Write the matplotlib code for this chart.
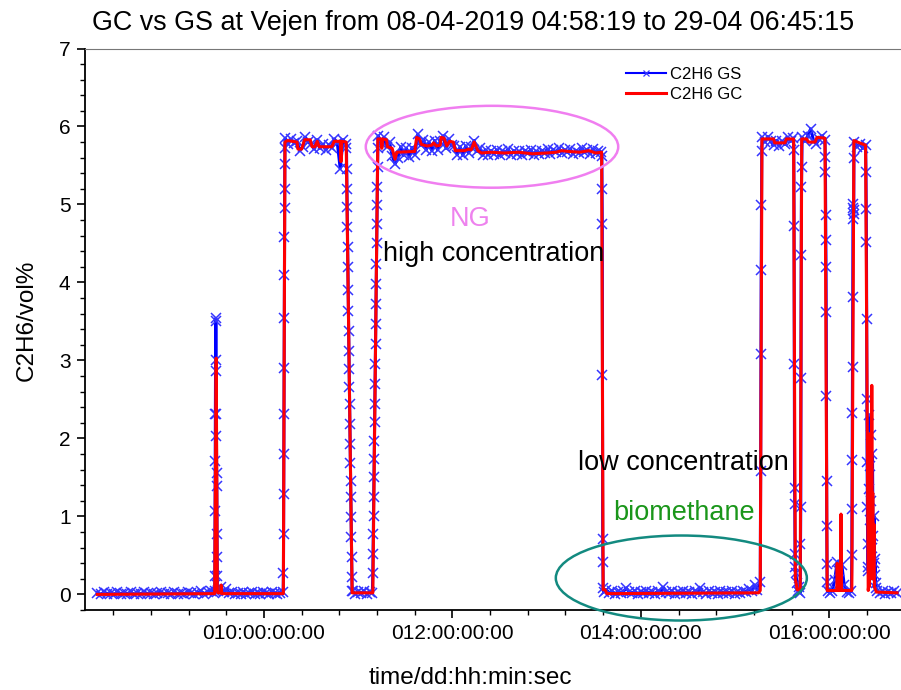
import numpy as np
import matplotlib.pyplot as plt
from matplotlib.patches import Ellipse
from matplotlib.ticker import FixedLocator, MultipleLocator

plt.rcParams['font.family'] = ['Liberation Sans', 'DejaVu Sans']

# ---- GS readings (C2H6 vol%), one list per stretch of the log ----
gs_base1 = [0.02, 0.00, 0.03, 0.01, 0.02, 0.00, 0.03, 0.01, 0.02, 0.01, 0.03, 0.00,
            0.02, 0.01, 0.03, 0.01, 0.02, 0.00, 0.02, 0.03, 0.01, 0.02, 0.00, 0.03,
            0.01, 0.02, 0.01, 0.03, 0.02, 0.00, 0.02, 0.04, 0.01, 0.03, 0.05, 0.02]
gs_spike1 = [0.05, 0.24, 1.07, 1.71, 2.31, 3.01, 3.54, 3.50, 2.86, 2.31, 2.03, 1.56,
             1.39, 0.78, 0.48, 0.24, 0.06]
gs_base2 = [0.04, 0.09, 0.03, 0.07, 0.02, 0.03, 0.01, 0.02, 0.00, 0.03, 0.01, 0.02,
            0.03, 0.01, 0.02, 0.00, 0.03, 0.02, 0.01, 0.03, 0.02, 0.00, 0.02, 0.03]
gs_rise1 = [0.28, 0.78, 1.29, 1.80, 2.31, 2.90, 3.54, 4.10, 4.58, 4.95, 5.20, 5.52, 5.73]
gs_high1 = [5.85, 5.78, 5.84, 5.79, 5.82, 5.69, 5.74, 5.86, 5.80, 5.77, 5.71, 5.83,
            5.72, 5.77, 5.70, 5.76, 5.73, 5.84, 5.79, 5.46, 5.83, 5.78]
gs_fall1 = [5.73, 5.46, 5.20, 4.97, 4.71, 4.45, 4.20, 3.90, 3.64, 3.38, 3.12, 2.89,
            2.66, 2.44, 2.19, 1.93, 1.68, 1.46, 1.25, 0.99, 0.73, 0.48, 0.22, 0.05]
gs_base3 = [0.04, 0.01, 0.03, 0.02, 0.04, 0.01, 0.03, 0.02]
gs_rise2 = [0.27, 0.52, 0.78, 1.01, 1.25, 1.50, 1.74, 1.97, 2.21, 2.44, 2.70, 2.96,
            3.21, 3.47, 3.73, 3.98, 4.24, 4.50, 4.75, 4.99, 5.22, 5.48, 5.73]
gs_high2 = [5.88, 5.79, 5.86, 5.74, 5.80, 5.62, 5.52, 5.60, 5.74, 5.63, 5.72, 5.61,
            5.73, 5.64, 5.90, 5.76, 5.83, 5.70, 5.80, 5.69, 5.82, 5.70, 5.81, 5.88,
            5.72, 5.84, 5.76, 5.75, 5.64, 5.74, 5.63, 5.75, 5.66, 5.74, 5.82, 5.68,
            5.72, 5.63, 5.70, 5.64, 5.69, 5.65, 5.70, 5.63, 5.68, 5.66, 5.71, 5.64,
            5.69, 5.65, 5.68, 5.63, 5.69, 5.66, 5.70, 5.64, 5.68, 5.65, 5.69, 5.66,
            5.71, 5.65, 5.70, 5.67, 5.72, 5.66, 5.70, 5.67, 5.71, 5.65, 5.69, 5.66,
            5.72, 5.67, 5.70, 5.65, 5.71, 5.66, 5.69, 5.67]
gs_fall2 = [5.62, 5.20, 4.75, 2.81, 0.71, 0.41, 0.08]
gs_base4 = [0.03, 0.06, 0.02, 0.04, 0.01, 0.03, 0.02, 0.04, 0.08, 0.03, 0.02, 0.04,
            0.01, 0.03, 0.02, 0.04, 0.02, 0.03, 0.01, 0.04, 0.02, 0.09, 0.03, 0.02,
            0.04, 0.01, 0.03, 0.02, 0.04, 0.02, 0.03, 0.01, 0.04, 0.02, 0.08, 0.03,
            0.01, 0.04, 0.02, 0.03, 0.01, 0.04, 0.02, 0.03, 0.02, 0.04, 0.01, 0.03,
            0.02, 0.05, 0.03, 0.07, 0.04, 0.12, 0.06, 0.16]
gs_rise3 = [1.58, 3.08, 4.16, 4.99, 5.69]
gs_high3 = [5.86, 5.80, 5.87, 5.81, 5.76, 5.82, 5.75, 5.81, 5.77, 5.86, 5.81, 5.85]
gs_fall3 = [5.70, 4.73, 2.96, 1.36, 1.16, 0.52, 0.35]
gs_base5 = [0.28, 0.15, 0.04, 0.10, 0.02]
gs_rise4 = [0.65, 1.12, 2.77, 4.35, 5.22, 5.48]
gs_high4 = [5.86, 5.81, 5.88, 5.97, 5.82, 5.78, 5.84, 5.88, 5.83]
gs_fall4 = [5.61, 5.41, 4.86, 4.54, 4.20, 3.62, 2.55, 1.46, 0.88, 0.39, 0.16]
gs_base6 = [0.04, 0.02, 0.05, 0.18, 0.41, 0.30, 0.38, 0.12, 0.03, 0.02, 0.04]
gs_rise5 = [0.50, 1.10, 1.72, 2.32, 2.91, 3.81, 4.82, 4.95, 5.01, 4.88, 4.93, 5.60]
gs_high5 = [5.80, 5.74, 5.78, 5.72, 5.76]
gs_fall5 = [5.41, 4.94, 4.52, 3.53, 2.51, 1.70, 1.12, 0.65, 0.35]
gs_burst = [0.30, 1.35, 2.30, 1.65, 0.95, 2.05, 1.20, 0.60, 1.80, 0.75, 0.40, 1.00,
            0.25, 0.45, 0.15, 0.08]
gs_base7 = [0.05, 0.02, 0.04, 0.01, 0.03, 0.02, 0.04, 0.02]

# first and last sample time (days) of each stretch above
gs_start = [8.230, 9.476, 9.510, 10.206, 10.225, 10.875, 10.940, 11.155, 11.212,
            13.586, 13.604, 15.272, 15.288, 15.624, 15.645, 15.695, 15.712, 15.958,
            15.982, 16.240, 16.266, 16.390, 16.415, 16.505]
gs_end = [9.472, 9.506, 10.203, 10.222, 10.870, 10.935, 11.150, 11.208, 13.580,
          13.600, 15.268, 15.284, 15.620, 15.640, 15.692, 15.708, 15.955, 15.978,
          16.235, 16.262, 16.386, 16.410, 16.498, 16.720]

gs_runs = [gs_base1, gs_spike1, gs_base2, gs_rise1, gs_high1, gs_fall1, gs_base3,
           gs_rise2, gs_high2, gs_fall2, gs_base4, gs_rise3, gs_high3, gs_fall3,
           gs_base5, gs_rise4, gs_high4, gs_fall4, gs_base6, gs_rise5, gs_high5,
           gs_fall5, gs_burst, gs_base7]

# ---- GC analyser (C2H6 vol%) ----
gc_t = [8.23, 9.476, 9.492, 9.504, 9.512, 9.540, 9.545, 9.552,
        10.205, 10.222, 10.25, 10.35, 10.36, 10.40, 10.43, 10.49, 10.51, 10.54,
        10.565, 10.585, 10.72, 10.745, 10.81, 10.817, 10.825, 10.872, 10.935,
        11.155, 11.208, 11.245, 11.25, 11.26, 11.30, 11.31, 11.36, 11.39, 11.41,
        11.60, 11.62, 11.65, 11.67, 11.73, 11.78, 11.80, 11.83, 11.87, 11.88,
        11.91, 11.94, 11.97, 12.01, 12.03, 12.13, 12.17, 12.20, 12.23, 12.27,
        12.31, 12.40, 12.55, 12.70, 12.85, 13.00, 13.10, 13.16, 13.23, 13.35, 13.45, 13.52, 13.584, 13.600,
        13.62, 13.64, 15.25, 15.268, 15.286, 15.41, 15.42, 15.53, 15.545, 15.622,
        15.640, 15.66, 15.692, 15.708, 15.76, 15.78, 15.85, 15.87, 15.955, 15.978,
        16.08, 16.085, 16.09, 16.12, 16.125, 16.13, 16.24, 16.262, 16.30, 16.386, 16.414,
        16.418, 16.422, 16.426, 16.432, 16.436, 16.44, 16.445, 16.452, 16.458, 16.462, 16.468, 16.475, 16.48, 16.50, 16.72]
gc_v = [0.00, 0.01, 3.03, 0.05, 0.02, 0.02, 0.12, 0.01,
        0.01, 5.80, 5.82, 5.80, 5.71, 5.71, 5.83, 5.83, 5.74, 5.74,
        5.81, 5.74, 5.74, 5.81, 5.81, 5.55, 5.81, 5.80, 0.02,
        0.02, 5.84, 5.84, 5.72, 5.84, 5.83, 5.74, 5.72, 5.58, 5.67,
        5.68, 5.86, 5.84, 5.77, 5.75, 5.76, 5.79, 5.75, 5.76, 5.86,
        5.85, 5.75, 5.81, 5.80, 5.69, 5.69, 5.71, 5.70, 5.80, 5.69,
        5.66, 5.67, 5.66, 5.67, 5.65, 5.66, 5.67, 5.69, 5.68, 5.67, 5.69, 5.66, 5.67, 0.06,
        0.06, 0.01, 0.02, 0.05, 5.84, 5.84, 5.79, 5.79, 5.84, 5.84,
        0.20, 0.06, 0.05, 5.84, 5.84, 5.80, 5.80, 5.86, 5.85, 0.05,
        0.05, 0.40, 0.05, 0.05, 1.03, 0.05, 0.05, 5.82, 5.80, 5.76, 0.05,
        0.10, 1.93, 0.10, 2.06, 0.30, 1.80, 0.20, 2.68, 0.50, 1.30, 0.20, 0.90, 0.10, 0.03, 0.02]

tick_days = [10, 12, 14, 16]
tick_text = ['010:00:00:00', '012:00:00:00', '014:00:00:00', '016:00:00:00']

gs_t = np.concatenate([np.linspace(a, b, len(r)) for a, b, r in zip(gs_start, gs_end, gs_runs)])
gs_v = np.concatenate(gs_runs)

fig = plt.figure(figsize=(9.01, 6.90), dpi=100)
ax = fig.add_axes([84.5 / 901, 80 / 690, (901 - 84.5) / 901, 561.5 / 690])

ax.plot(gs_t, gs_v, color='blue', lw=2.2, marker='x', ms=6.5, mew=1.1,
        mec='#3535ff', label='C2H6 GS', zorder=2)
ax.plot(gc_t, gc_v, color='red', lw=2.2, label='C2H6 GC', zorder=3)

ax.set_xlim(8.094, 16.762)
ax.set_ylim(-0.2, 7)

ax.xaxis.set_major_locator(FixedLocator(tick_days))
ax.set_xticklabels(tick_text)
ax.xaxis.set_minor_locator(MultipleLocator(0.4))
ax.yaxis.set_major_locator(MultipleLocator(1))
ax.yaxis.set_minor_locator(MultipleLocator(0.2))
ax.tick_params(which='major', direction='out', length=6, width=1.2, labelsize=15, pad=4)
ax.tick_params(which='minor', direction='out', length=3.5, width=1.0)

ax.spines['right'].set_visible(False)
ax.spines['top'].set_color('#777777')
ax.spines['top'].set_linewidth(0.8)
ax.spines['left'].set_linewidth(1.3)
ax.spines['bottom'].set_linewidth(1.3)

ax.set_xlabel('time/dd:hh:min:sec', fontsize=17.5)
ax.set_ylabel('C2H6/vol%', fontsize=17.5)
ax.xaxis.set_label_coords(0.472, -0.102)
ax.yaxis.set_label_coords(-0.057, 0.516)
fig.text(0.525, 0.967, 'GC vs GS at Vejen from 08-04-2019 04:58:19 to 29-04 06:45:15',
         ha='center', va='center', fontsize=19.4)

# circled regions
ax.add_patch(Ellipse((12.42, 5.74), 2.68, 1.05, fill=False, ec='#f07ef0', lw=1.8, zorder=4))
ax.add_patch(Ellipse((14.43, 0.21), 2.665, 1.09, fill=False, ec='#138a80', lw=1.8,
                     zorder=4, clip_on=False))

ax.text(12.19, 4.81, 'NG', color='#ee82ee', fontsize=19.5, ha='center', va='center')
ax.text(12.44, 4.36, 'high concentration', color='black', fontsize=19.5, ha='center', va='center')
ax.text(14.45, 1.68, 'low concentration', color='black', fontsize=19.5, ha='center', va='center')
ax.text(14.46, 1.05, 'biomethane', color='#1a961a', fontsize=19.5, ha='center', va='center')

leg = ax.legend(loc='upper left', bbox_to_anchor=(626 / 901, 1 - 67 / 690),
                bbox_transform=fig.transFigure, frameon=False, fontsize=12,
                handlelength=2.4, handletextpad=0.25, labelspacing=0.3, borderpad=0,
                borderaxespad=0)
leg.get_lines()[0].set_markersize(5)
leg.get_lines()[0].set_linewidth(1.5)
leg.get_lines()[0].set_markeredgewidth(0.9)

fig.savefig('out.png', dpi=100)
